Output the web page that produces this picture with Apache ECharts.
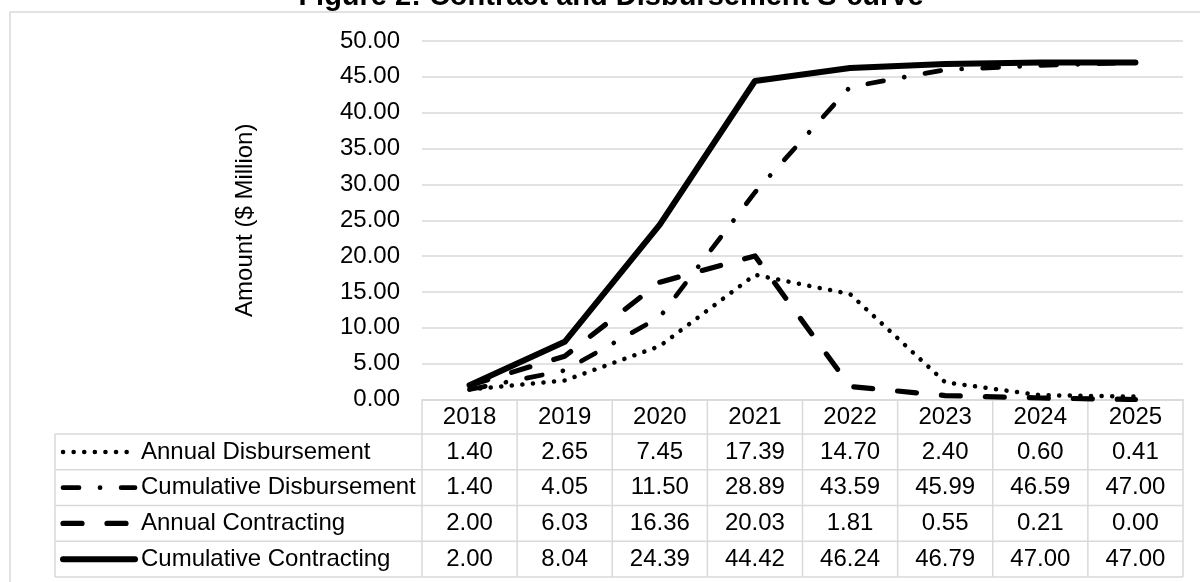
<!DOCTYPE html>
<html>
<head>
<meta charset="utf-8">
<title>Contract and Disbursement S-curve</title>
<script src="https://cdn.jsdelivr.net/npm/echarts@6/dist/echarts.min.js"></script>
<style>
  html, body { margin: 0; padding: 0; background: #fff; }
  #chart { width: 1200px; height: 582px; }
</style>
</head>
<body>
<div id="chart"></div>
<script>
// ---- data ----
const years = ['2018', '2019', '2020', '2021', '2022', '2023', '2024', '2025'];
const annualDisbursement = [1.40, 2.65, 7.45, 17.39, 14.70, 2.40, 0.60, 0.41];
const cumulativeDisbursement = [1.40, 4.05, 11.50, 28.89, 43.59, 45.99, 46.59, 47.00];
const annualContracting = [2.00, 6.03, 16.36, 20.03, 1.81, 0.55, 0.21, 0.00];
const cumulativeContracting = [2.00, 8.04, 24.39, 44.42, 46.24, 46.79, 47.00, 47.00];
const seriesNames = ['Annual Disbursement', 'Cumulative Disbursement', 'Annual Contracting', 'Cumulative Contracting'];
const seriesValues = [annualDisbursement, cumulativeDisbursement, annualContracting, cumulativeContracting];

// ---- styling ----
const FONT = '"Liberation Sans", Arial, sans-serif';
const FS = 24;
const GRID_COLOR = '#d9d9d9';
const lineStyles = [
  { width: 4.5, type: [0.1, 10.5], cap: 'round' },          // dotted
  { width: 4.7, type: [16, 21, 0.1, 21], cap: 'round' },    // dash-dot
  { width: 5.2, type: [19, 25], cap: 'round' },             // long dash
  { width: 6, type: 'solid', cap: 'round' }                 // solid
];

const layout = {
  left: 422, right: 1183, top: 41, bottom: 399.5,
  tableLeft: 55, rowH: 35.75, headerBottom: 434,
  keyX0: 63, keyX1: 135, labelX: 141
};

const chart = echarts.init(document.getElementById('chart'), null, { renderer: 'canvas' });

const colW = (layout.right - layout.left) / years.length;

// data table drawn under the plot: grid lines, legend keys, row labels, values
function buildTable() {
  const g = [];
  const nRows = seriesNames.length;
  const yBottom = layout.headerBottom + nRows * layout.rowH;
  const borderStyle = { stroke: GRID_COLOR, lineWidth: 1.5 };
  // vertical column dividers
  for (let i = 0; i <= years.length; i++) {
    const x = layout.left + i * colW;
    g.push({ type: 'line', shape: { x1: x, y1: layout.bottom, x2: x, y2: yBottom }, style: borderStyle, silent: true });
  }
  // left edge of the label column
  g.push({ type: 'line', shape: { x1: layout.tableLeft, y1: layout.headerBottom, x2: layout.tableLeft, y2: yBottom }, style: borderStyle, silent: true });
  // horizontal row lines
  for (let r = 0; r <= nRows; r++) {
    const y = layout.headerBottom + r * layout.rowH;
    g.push({ type: 'line', shape: { x1: layout.tableLeft, y1: y, x2: layout.right, y2: y }, style: borderStyle, silent: true });
  }
  // rows
  seriesNames.forEach((name, r) => {
    const cy = layout.headerBottom + (r + 0.5) * layout.rowH;
    const ls = lineStyles[r];
    g.push({
      type: 'line',
      shape: { x1: layout.keyX0, y1: cy, x2: layout.keyX1, y2: cy },
      style: {
        stroke: '#000', lineWidth: ls.width, lineCap: ls.cap,
        lineDash: Array.isArray(ls.type) ? ls.type : null
      },
      silent: true
    });
    g.push({
      type: 'text', x: layout.labelX, y: cy,
      style: { text: name, font: FS + 'px ' + FONT, fill: '#000', align: 'left', verticalAlign: 'middle' },
      silent: true
    });
    seriesValues[r].forEach((v, i) => {
      g.push({
        type: 'text', x: layout.left + (i + 0.5) * colW, y: cy,
        style: { text: v.toFixed(2), font: FS + 'px ' + FONT, fill: '#000', align: 'center', verticalAlign: 'middle' },
        silent: true
      });
    });
  });
  // chart frame
  g.push({ type: 'rect', shape: { x: 10, y: 12, width: 1200, height: 600 }, style: { fill: null, stroke: GRID_COLOR, lineWidth: 1.5 }, silent: true, z: -1 });
  // title
  g.push({
    type: 'text', x: 611, y: 11,
    style: { text: 'Figure 2: Contract and Disbursement S-curve', font: 'bold 29px ' + FONT, fill: '#000', align: 'center', verticalAlign: 'bottom' },
    silent: true
  });
  return g;
}

const option = {
  animation: false,
  backgroundColor: '#fff',
  grid: {
    left: layout.left,
    right: 1200 - layout.right,
    top: layout.top,
    bottom: 582 - layout.bottom,
    containLabel: false
  },
  xAxis: {
    type: 'category',
    data: years,
    boundaryGap: true,
    axisLine: { show: true, lineStyle: { color: GRID_COLOR, width: 1.5 } },
    axisTick: { show: false },
    axisLabel: { color: '#000', fontFamily: FONT, fontSize: FS, margin: 6 },
    splitLine: { show: false }
  },
  yAxis: {
    type: 'value',
    min: 0, max: 50, interval: 5,
    name: 'Amount ($ Million)',
    nameLocation: 'middle',
    nameRotate: 90,
    nameGap: 165,
    nameTextStyle: { color: '#000', fontFamily: FONT, fontSize: FS },
    axisLine: { show: false },
    axisTick: { show: false },
    axisLabel: { color: '#000', fontFamily: FONT, fontSize: FS, margin: 22, formatter: v => v.toFixed(2) },
    splitLine: { show: true, lineStyle: { color: GRID_COLOR, width: 1.5 } }
  },
  series: seriesNames.map((name, i) => ({
    name,
    type: 'line',
    data: seriesValues[i],
    symbol: 'none',
    smooth: false,
    lineStyle: { color: '#000', width: lineStyles[i].width, type: lineStyles[i].type, cap: lineStyles[i].cap, join: 'round' },
    z: 2 + i
  })),
  graphic: buildTable()
};

chart.setOption(option);
</script>
</body>
</html>
